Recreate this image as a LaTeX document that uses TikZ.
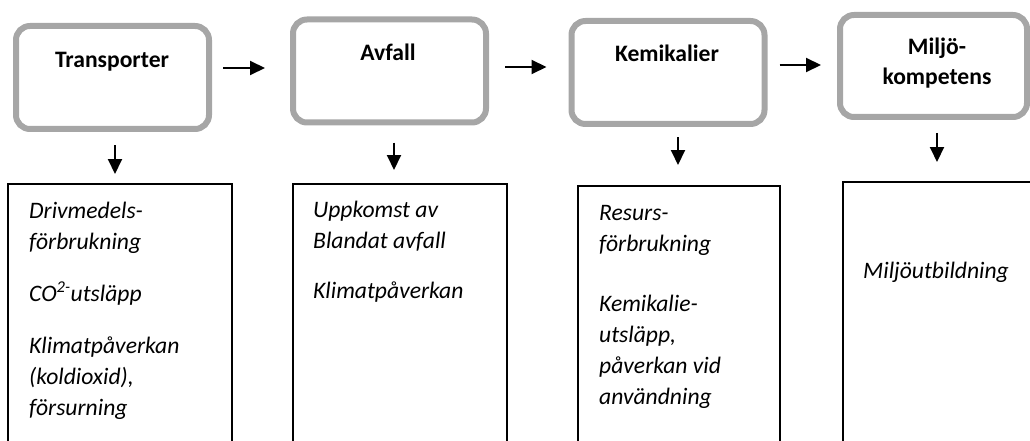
\documentclass[tikz,border=0pt]{standalone}
\usepackage{fontspec}
\setmainfont{Carlito}
\usetikzlibrary{arrows.meta}
\definecolor{framegray}{HTML}{A6A6A6}
\begin{document}
\begin{tikzpicture}[x=1pt, y=-1pt, >={Triangle[length=15pt,width=14pt]},
area/.style={draw=framegray, line width=6pt, rounded corners=14pt, minimum width=193pt, minimum height=103pt},
head/.style={font=\bfseries\fontsize{23.6}{30}\selectfont, align=center, inner sep=0pt},
detail/.style={draw, line width=2pt, minimum width=224pt, minimum height=400pt, anchor=north},
effect/.style={font=\itshape\fontsize{23.6}{31}\selectfont, align=left, anchor=north west, inner sep=0pt},
arr/.style={->, line width=2pt}]
\useasboundingbox (0,0) rectangle (1030,441);
\clip (0,0) rectangle (1030,441);
\node[area] (trans) at (112.5,77.5) {};
\node[area] (avfall) at (389.5,71) {};
\node[area] (kemi) at (668,72.5) {};
\node[area, minimum width=187pt, minimum height=102pt] (miljo) at (933.5,66) {};
\node[head, anchor=base] (transH) at (112,68) {Transporter};
\node[head, anchor=base] (avfallH) at (388,61) {Avfall};
\node[head, anchor=base] (kemiH) at (667,62) {Kemikalier};
\node[head, anchor=north] (miljoH) at (937,38) {Miljö-\\kompetens};
\node[detail] (transD) at (120,183) {};
\node[detail, minimum width=214pt] (avfallD) at (400,183) {};
\node[detail, minimum width=202pt] (kemiD) at (679,185) {};
\node[detail] (miljoD) at (955,181) {};
\node[effect] (transE) at (29,202) {Drivmedels-\\förbrukning\\[21pt]CO\textsuperscript{2-}utsläpp\\[21pt]Klimatpåverkan\\(koldioxid),\\försurning};
\node[effect] (avfallE) at (313,201) {Uppkomst av\\Blandat avfall\\[19pt]Klimatpåverkan};
\node[effect] (kemiE) at (599,205) {Resurs-\\förbrukning\\[29pt]Kemikalie-\\utsläpp,\\påverkan vid\\användning};
\node[effect] (miljoE) at (863,262) {Miljöutbildning};
\draw[arr, shorten <=11pt, shorten >=25pt] (trans.east |- 0,68) -- (avfall.west |- 0,68);
\draw[arr, shorten <=16pt, shorten >=22pt] (avfall.east |- 0,67) -- (kemi.west |- 0,67);
\draw[arr, shorten <=12pt, shorten >=16pt] (kemi.east |- 0,65) -- (miljo.west |- 0,65);
\draw[arr, shorten <=13pt, shorten >=9pt] (trans.south -| 115,0) -- (transD.north -| 115,0);
\draw[arr, shorten <=17pt, shorten >=13pt] (avfall.south -| 394,0) -- (avfallD.north -| 394,0);
\draw[arr, shorten <=10pt, shorten >=20pt] (kemi.south -| 678,0) -- (kemiD.north -| 678,0);
\draw[arr, shorten <=13pt, shorten >=19pt] (miljo.south -| 937,0) -- (miljoD.north -| 937,0);
\end{tikzpicture}
\end{document}
